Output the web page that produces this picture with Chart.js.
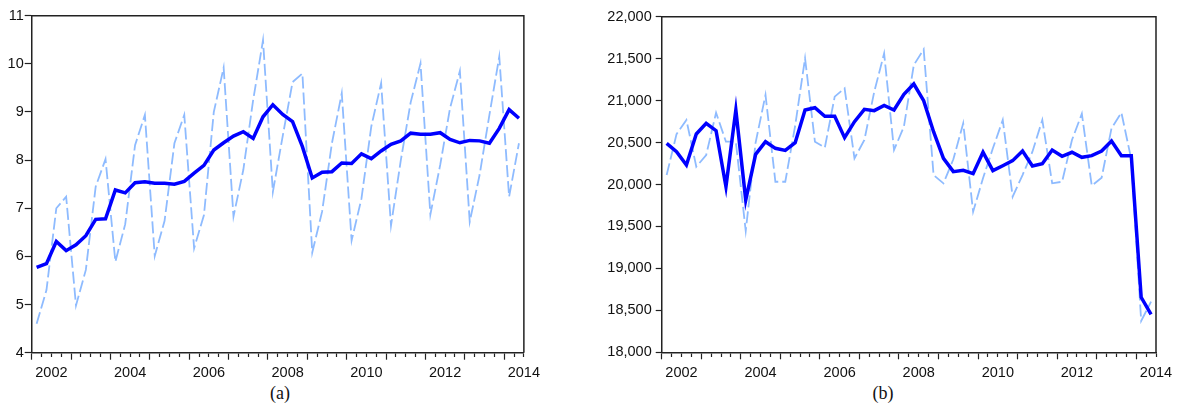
<!DOCTYPE html>
<html><head><meta charset="utf-8">
<script src="https://cdn.jsdelivr.net/npm/chart.js@4.4.1/dist/chart.umd.min.js"></script>
<style>
html,body{margin:0;padding:0;background:#fff;width:1180px;height:405px;overflow:hidden}
.box{position:absolute;top:0}
#wa{left:0;width:545px;height:380px}
#wb{left:600px;width:580px;height:380px}
.cap{position:absolute;top:382px;width:40px;text-align:center;font-family:"Liberation Serif","Times New Roman",serif;font-size:18px;line-height:22px;color:#111}
</style></head><body>
<div class="box" id="wa"><canvas id="ca" width="545" height="380"></canvas></div>
<div class="box" id="wb"><canvas id="cb" width="580" height="380"></canvas></div>
<div class="cap" style="left:260px">(a)</div>
<div class="cap" style="left:863px">(b)</div>
<script>
// Quarterly observations 2002Q1 .. 2014Q2
const quarters = [];
for (let y = 2002; y <= 2014; y++) for (let q = 1; q <= 4; q++) if (quarters.length < 50) quarters.push(y + 'Q' + q);
const yearLabels = ['2002','2004','2006','2008','2010','2012','2014'];

const leftSmooth = [5.77,5.85,6.31,6.12,6.24,6.43,6.77,6.78,7.38,7.32,
  7.53,7.55,7.52,7.52,7.50,7.56,7.73,7.89,8.21,8.36,
  8.50,8.59,8.45,8.90,9.15,8.95,8.80,8.28,7.63,7.75,
  7.76,7.94,7.93,8.13,8.03,8.19,8.33,8.40,8.56,8.54,
  8.54,8.57,8.43,8.36,8.41,8.40,8.35,8.66,9.05,8.87];
const leftRaw = [4.60,5.30,7.00,7.24,4.98,5.72,7.45,8.02,5.89,6.67,
  8.31,8.94,6.01,6.74,8.35,8.94,6.17,6.86,9.00,9.92,
  6.83,7.80,9.25,10.49,7.34,8.50,9.62,9.80,6.08,6.93,
  8.35,9.39,6.33,7.20,8.70,9.60,6.64,8.00,9.20,10.01,
  6.87,7.90,9.08,9.85,6.72,7.69,8.94,10.15,7.24,8.35];
const rightSmooth = [20491,20391,20232,20602,20729,20641,19974,20888,19815,20360,
  20510,20431,20407,20498,20888,20915,20812,20812,20558,20749,
  20896,20880,20943,20888,21075,21198,20999,20629,20312,20153,
  20169,20129,20384,20165,20224,20284,20399,20220,20248,20411,
  20336,20384,20324,20344,20399,20518,20344,20344,18655,18452];
const rightRaw = [20113,20600,20769,20212,20352,20856,20510,20510,19446,20500,
  21067,20033,20033,20700,21504,20510,20439,21047,21146,20312,
  20530,21106,21563,20411,20689,21424,21611,20113,20014,20300,
  20729,19676,20074,20431,20769,19855,20113,20391,20769,20014,
  20033,20530,20844,19986,20081,20670,20856,20300,18373,18603];
const leftTicks = [4,5,6,7,8,9,10,11];
const rightTicks = [18000,18500,19000,19500,20000,20500,21000,21500,22000];

const FONT = {family:'"Liberation Sans", Arial, sans-serif', size:14.5};
const INK = '#111';

const framePlugin = {
  id:'frame',
  beforeDatasetsDraw(chart){
    const a = chart.chartArea, c = chart.ctx;
    c.save(); c.strokeStyle = '#222'; c.lineWidth = 1.5;
    c.beginPath();
    c.moveTo(a.left, a.top); c.lineTo(a.right, a.top); c.lineTo(a.right, a.bottom);
    c.stroke(); c.restore();
  }
};

function pts(arr){ return arr.map((v,i)=>({x:i, y:v})); }

function makeChart(id, smooth, raw, yTicks, yAxisW, yTickLen, yPad, pad, xAxisH, fmt){
  const n = quarters.length;
  return new Chart(document.getElementById(id), {
    type:'line',
    data:{datasets:[
      {label:'smooth', data:pts(smooth), borderColor:'#0000ff', borderWidth:3.5, pointRadius:0, tension:0, borderJoinStyle:'miter', order:0},
      {label:'raw', data:pts(raw), borderColor:'#8ebbff', borderWidth:1.8, borderDash:[12,4], pointRadius:0, tension:0, order:1}
    ]},
    options:{
      responsive:false, animation:false, events:[],
      layout:{padding:pad},
      plugins:{legend:{display:false}, tooltip:{enabled:false}},
      scales:{
        x:{type:'linear', min:-0.5, max:n-0.5,
          afterBuildTicks(s){ const t=[]; for(let k=0;k<=n;k++) t.push({value:-0.5+k}); s.ticks=t; },
          afterFit(s){ s.height = xAxisH; },
          ticks:{autoSkip:false, maxRotation:0, minRotation:0, padding:5, color:INK, font:FONT,
            callback(v, i){ return (i-2)%8===0 ? yearLabels[(i-2)/8] : ''; }},
          grid:{drawOnChartArea:false, drawTicks:true, tickLength:7, tickColor:'#222', tickWidth:1.2,
            tickBorderDash:(ctx)=> (ctx.index%4===0 ? [] : [3.5, 30])},
          border:{display:true, color:'#222', width:1.5}
        },
        y:{type:'linear', min:yTicks[0], max:yTicks[yTicks.length-1],
          afterBuildTicks(s){ s.ticks = yTicks.map(v=>({value:v})); },
          afterFit(s){ s.width = yAxisW; },
          ticks:{padding:yPad, color:INK, font:FONT, callback:fmt},
          grid:{drawOnChartArea:false, drawTicks:true, tickLength:yTickLen, tickColor:'#222', tickWidth:1.2},
          border:{display:true, color:'#222', width:1.5}
        }
      }
    },
    plugins:[framePlugin]
  });
}

makeChart('ca', leftSmooth, leftRaw, leftTicks, 31.7, 7, 1,
  {left:0, top:15.7, right:20, bottom:0}, 27.3, v=>String(v));
makeChart('cb', rightSmooth, rightRaw, rightTicks, 61.7, 6, 4,
  {left:0, top:16.7, right:24, bottom:0}, 27.7, v=>v.toLocaleString('en-US'));
</script>
</body></html>
